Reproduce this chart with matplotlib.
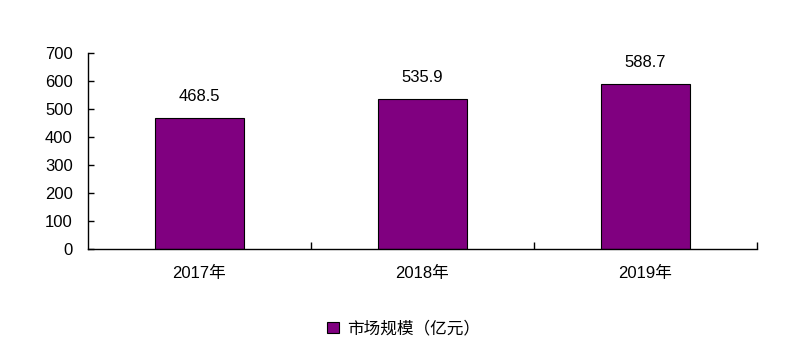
import matplotlib
matplotlib.use('Agg')
import matplotlib.pyplot as plt
import numpy as np
from matplotlib.patches import Patch

plt.rcParams['font.family'] = ['Liberation Sans', 'Noto Sans CJK SC', 'DejaVu Sans']

# данные
years = ['2017年', '2018年', '2019年']
market_size = [468.5, 535.9, 588.7]
series_name = '市场规模（亿元）'
y_ticks = [0, 100, 200, 300, 400, 500, 600, 700]

fs = 12

fig = plt.figure(figsize=(8.07, 3.53), dpi=100)
ax = fig.add_axes([0.109, 0.2946, 0.829, 0.5553])

x = np.arange(len(years))
ax.bar(x, market_size, width=0.4, color='#800080', edgecolor='black', linewidth=0.8)

for xi, v in zip(x, market_size):
    ax.annotate(f'{v}', (xi, v), xytext=(0, 10), textcoords='offset points',
                ha='center', va='bottom', fontsize=fs)

ax.set_xlim(-0.5, len(years) - 0.5)
ax.set_ylim(0, 700)
ax.set_yticks(y_ticks)
ax.tick_params(axis='y', direction='in', length=4, width=1, labelsize=fs, pad=11)
ax.set_xticks(x)
ax.set_xticklabels(years, fontsize=fs)
ax.tick_params(axis='x', which='major', length=0, pad=12)
# тики на границах категорий, внутрь
ax.set_xticks(np.arange(len(years)) + 0.5, minor=True)
ax.tick_params(axis='x', which='minor', direction='in', length=5, width=1)

for s in ['top', 'right']:
    ax.spines[s].set_visible(False)
for s in ['left', 'bottom']:
    ax.spines[s].set_linewidth(1)

handle = Patch(facecolor='#800080', edgecolor='black', linewidth=0.8, label=series_name)
fig.legend(handles=[handle], loc='center', bbox_to_anchor=(0.5, 0.07), frameon=False,
           fontsize=fs, handlelength=0.7, handleheight=0.7, handletextpad=0.5)

fig.savefig('out.png', dpi=100)
